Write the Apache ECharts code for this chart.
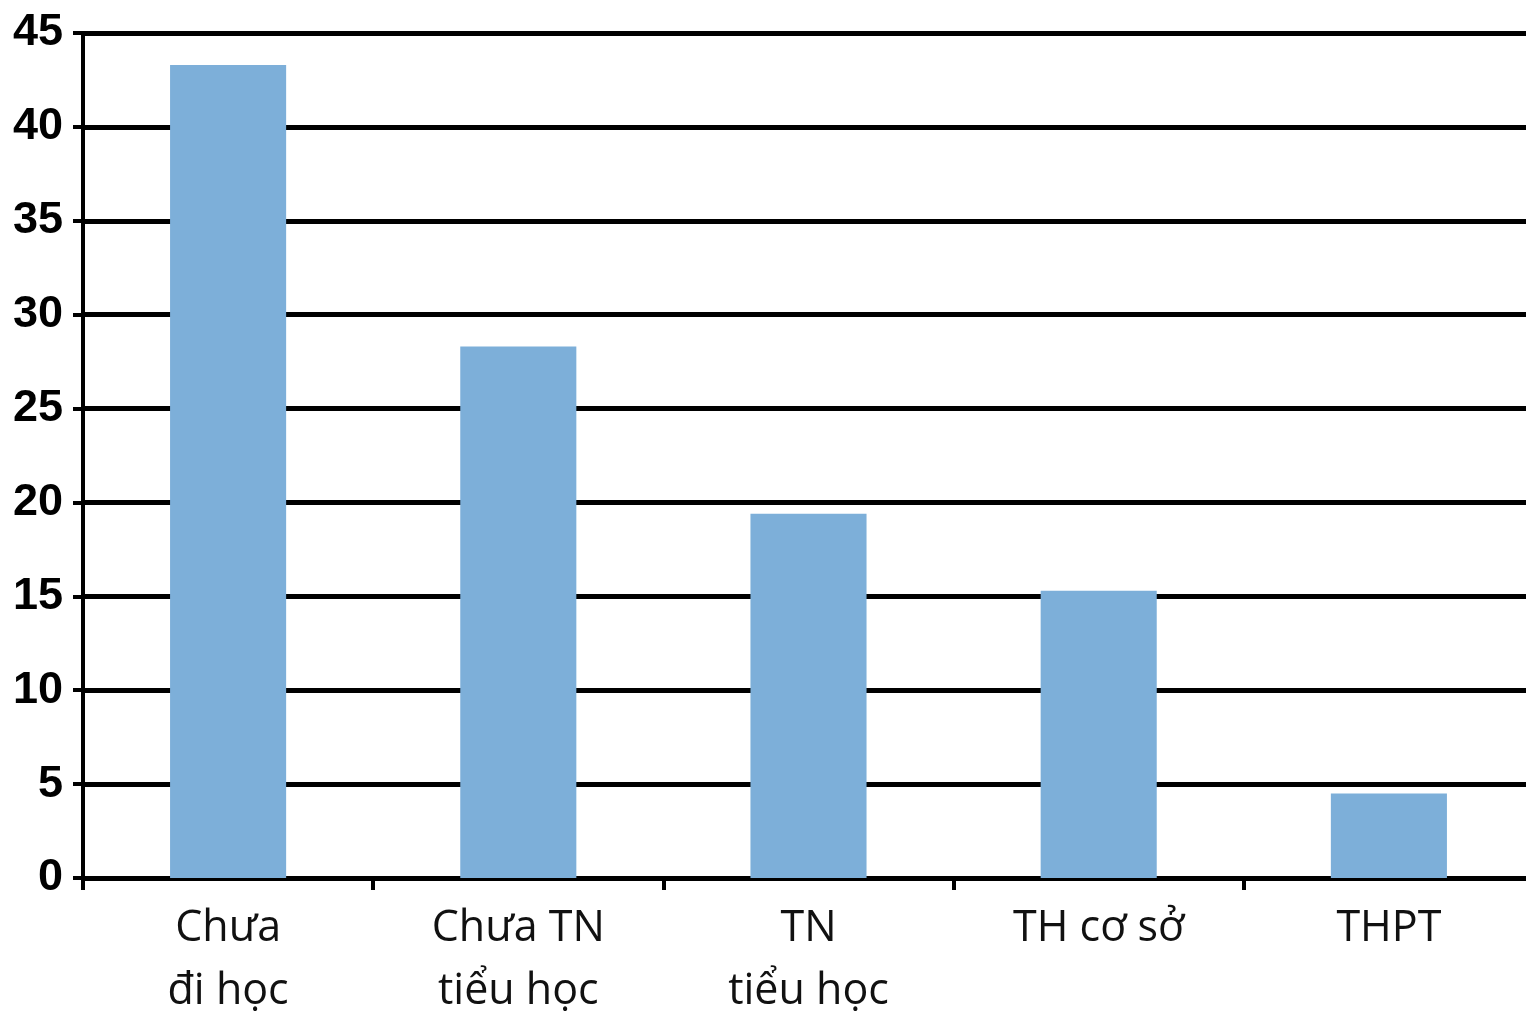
<!DOCTYPE html>
<html>
<head>
<meta charset="utf-8">
<script src="https://cdn.jsdelivr.net/npm/echarts@6/dist/echarts.min.js"></script>
<style>
  html, body { margin: 0; padding: 0; background: #fff; }
  #chart { width: 1526px; height: 1015px; }
</style>
</head>
<body>
<div id="chart"></div>
<script>
// Education level categories and their percentages
const categories = ['Chưa\nđi học', 'Chưa TN\ntiểu học', 'TN\ntiểu học', 'TH cơ sở', 'THPT'];
const values = [43.3, 28.3, 19.4, 15.3, 4.5];
const yTicks = [0, 5, 10, 15, 20, 25, 30, 35, 40, 45];

const chart = echarts.init(document.getElementById('chart'));
chart.setOption({
  animation: false,
  backgroundColor: '#ffffff',
  grid: {
    left: 83, right: -8, top: 33, bottom: 137,
    containLabel: false,
    outerBoundsMode: 'none'
  },
  xAxis: {
    type: 'category',
    data: categories,
    boundaryGap: true,
    axisLine: { show: true, lineStyle: { color: '#000', width: 4 } },
    axisTick: { show: true, length: 12, lineStyle: { color: '#000', width: 4 } },
    axisLabel: {
      color: '#111',
      fontFamily: '"Liberation Sans Narrow", "Open Sans", sans-serif',
      fontSize: 43,
      lineHeight: 63,
      margin: 19
    },
    splitLine: { show: false }
  },
  yAxis: {
    type: 'value',
    min: yTicks[0],
    max: yTicks[yTicks.length - 1],
    interval: 5,
    axisLine: { show: true, lineStyle: { color: '#000', width: 4 } },
    axisTick: { show: true, length: 10, lineStyle: { color: '#000', width: 4 } },
    axisLabel: {
      color: '#000',
      fontFamily: '"Liberation Sans", Arial, sans-serif',
      fontWeight: 'bold',
      fontSize: 45,
      margin: 20
    },
    splitLine: { show: true, lineStyle: { color: '#000', width: 5 } }
  },
  series: [{
    type: 'bar',
    data: values,
    barWidth: '40%',
    itemStyle: { color: '#7DAFD9' },
    z: 3
  }]
});
</script>
</body>
</html>
